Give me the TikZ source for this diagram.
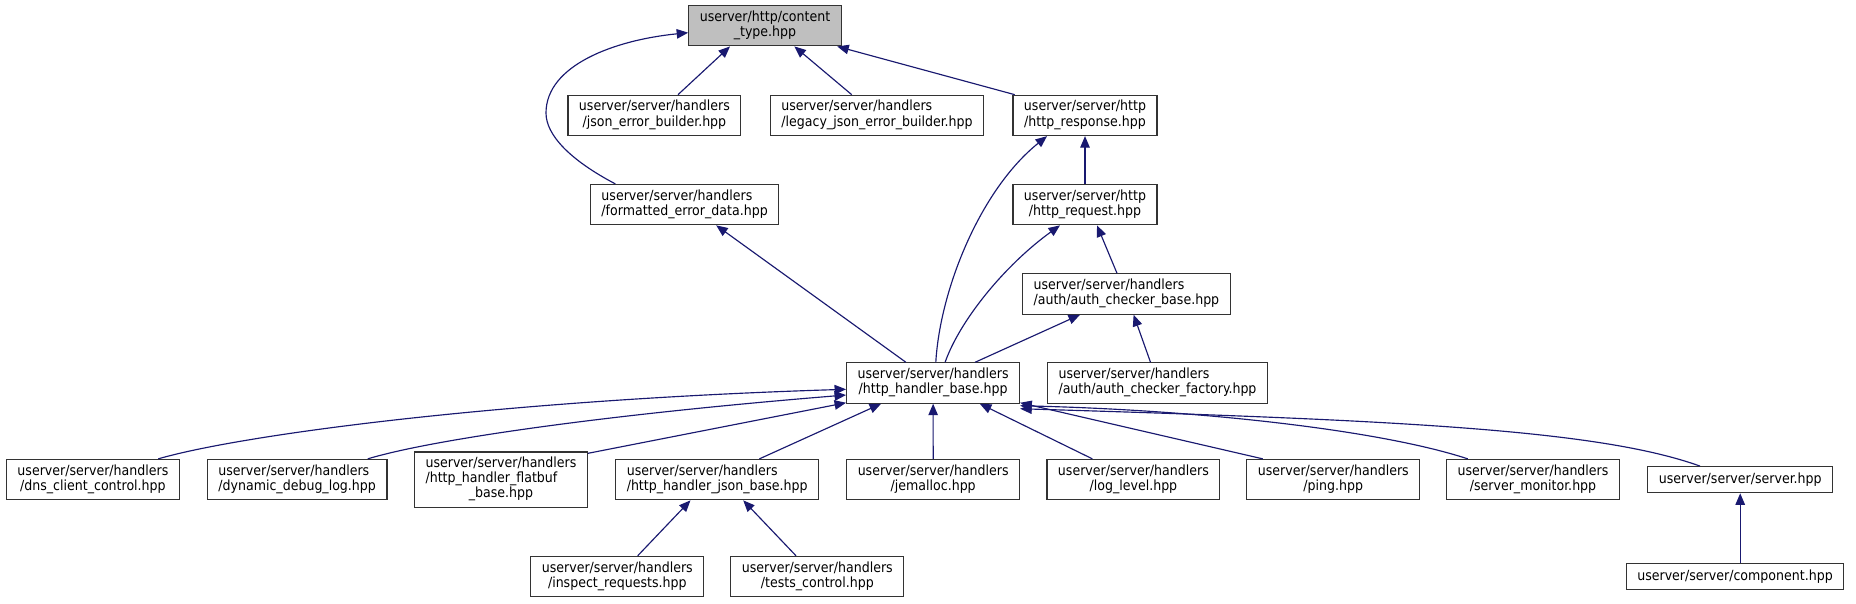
\documentclass[tikz,border=0pt]{standalone}
\usepackage{fontspec}
\setmainfont{DejaVu Sans Condensed}
\usepackage{xcolor}
\usetikzlibrary{arrows.meta,calc}

\definecolor{edgeblue}{RGB}{25,25,112}
\definecolor{rootgray}{RGB}{191,191,191}

% label with left-justified lines and a centred last line
\newcommand{\twoline}[2]{\begin{tabular}{@{}l@{}}#1\\\multicolumn{1}{@{}c@{}}{#2}\end{tabular}}
\newcommand{\threeline}[3]{\begin{tabular}{@{}l@{}}#1\\#2\\\multicolumn{1}{@{}c@{}}{#3}\end{tabular}}

\begin{document}
\begin{tikzpicture}[
  x=1pt, y=-1pt,
  font=\fontsize{14}{15}\selectfont,
  file/.style={draw=black!80, fill=white, line width=1.2pt, inner xsep=11pt, inner ysep=5pt, minimum height=26pt},
  rootfile/.style={file, fill=rootgray},
  dep/.style={draw=edgeblue, line width=1.15pt, -{Triangle[length=11.5pt,width=9.5pt]}}
]

% 1 px = 1 pt, y grows downwards
\useasboundingbox (0,0) rectangle (1856,603);
\fill[white] (0,0) rectangle (1856,603);

% Top: content_type.hpp and its direct includers
\node[rootfile] (ctype) at (765,25.7) {\twoline{userver/http/content}{\_type.hpp}};
\node[file] (jsonerr) at (654.4,115.4) {\twoline{userver/server/handlers}{/json\_error\_builder.hpp}};
\node[file] (legacyerr) at (877,115.4) {\twoline{userver/server/handlers}{/legacy\_json\_error\_builder.hpp}};
\node[file] (response) at (1085,115.4) {\twoline{userver/server/http}{/http\_response.hpp}};
\node[file] (fmterr) at (684.6,204.6) {\twoline{userver/server/handlers}{/formatted\_error\_data.hpp}};
\node[file] (request) at (1085,204.6) {\twoline{userver/server/http}{/http\_request.hpp}};
\node[file] (authbase) at (1126.4,294) {\twoline{userver/server/handlers}{/auth/auth\_checker\_base.hpp}};
\node[file] (hbase) at (933.1,383) {\twoline{userver/server/handlers}{/http\_handler\_base.hpp}};
\node[file] (authfactory) at (1157.5,383) {\twoline{userver/server/handlers}{/auth/auth\_checker\_factory.hpp}};

% Row of handlers
\node[file] (dnsctl) at (92.9,479.6) {\twoline{userver/server/handlers}{/dns\_client\_control.hpp}};
\node[file] (debuglog) at (297.2,479.6) {\twoline{userver/server/handlers}{/dynamic\_debug\_log.hpp}};
\node[file] (flatbuf) at (501,479.6) {\threeline{userver/server/handlers}{/http\_handler\_flatbuf}{\_base.hpp}};
\node[file] (jsonbase) at (717.2,479.6) {\twoline{userver/server/handlers}{/http\_handler\_json\_base.hpp}};
\node[file] (jemalloc) at (933.2,479.6) {\twoline{userver/server/handlers}{/jemalloc.hpp}};
\node[file] (loglevel) at (1133.4,479.6) {\twoline{userver/server/handlers}{/log\_level.hpp}};
\node[file] (ping) at (1333.3,479.6) {\twoline{userver/server/handlers}{/ping.hpp}};
\node[file] (monitor) at (1533,479.6) {\twoline{userver/server/handlers}{/server\_monitor.hpp}};
\node[file] (server) at (1740.2,479.7) {userver/server/server.hpp};

% Bottom row
\node[file] (inspect) at (617.3,576.5) {\twoline{userver/server/handlers}{/inspect\_requests.hpp}};
\node[file] (tests) at (817.3,576.5) {\twoline{userver/server/handlers}{/tests\_control.hpp}};
\node[file] (component) at (1735,576.3) {userver/server/component.hpp};

% Edges into content_type.hpp
\draw[dep] ([xshift=23.6pt]jsonerr.north) -- ([xshift=-35pt]ctype.south);
\draw[dep] ([xshift=-25.3pt]legacyerr.north) -- ([xshift=29.4pt]ctype.south);
\draw[dep] ([xshift=-70.3pt]response.north) -- ([xshift=-4.6pt]ctype.south east);
\draw[dep] ([xshift=-69.3pt]fmterr.north) .. controls (570,160) and (546,135) .. (546,113)
  .. controls (546,65) and (615,40) .. ([yshift=-7pt]ctype.west);

% Edges into the http headers
\draw[dep] (request) -- (response);
\draw[dep] ([xshift=2.7pt]hbase.north) .. controls (940,290) and (980,190) .. ([xshift=-38pt]response.south);
\draw[dep] ([xshift=12pt]hbase.north) .. controls (960,320) and (1005,265) .. ([xshift=-25pt]request.south);
\draw[dep] ([xshift=-9.4pt]authbase.north) -- ([xshift=12pt]request.south);
\draw[dep] ([xshift=-27.2pt]hbase.north) -- ([xshift=31.6pt]fmterr.south);
\draw[dep] ([xshift=42pt]hbase.north) -- ([xshift=-46.4pt]authbase.south);
\draw[dep] ([xshift=-7pt]authfactory.north) -- ([xshift=7.2pt]authbase.south);

% Edges into http_handler_base.hpp
\draw[dep] ([xshift=65.3pt]dnsctl.north) .. controls (240,435) and (500,400) .. ([yshift=-6.3pt]hbase.west);
\draw[dep] ([xshift=70.5pt]debuglog.north) .. controls (430,440) and (600,415) .. ([yshift=-12pt]hbase.west);
\draw[dep] ([yshift=-2pt]flatbuf.north east) -- ([yshift=1pt]hbase.south west);
\draw[dep] ([xshift=42.2pt]jsonbase.north) -- ([xshift=-52pt]hbase.south);
\draw[dep] (jemalloc) -- (hbase);
\draw[dep] ([xshift=-41pt]loglevel.north) -- ([xshift=46.7pt]hbase.south);
\draw[dep] ([xshift=-70.5pt]ping.north) -- ([yshift=1pt]hbase.south east);
\draw[dep] ([xshift=-65.2pt]monitor.north) .. controls (1380,430) and (1200,410) .. ([yshift=-2pt]hbase.south east);
\draw[dep] ([xshift=-40.2pt]server.north) .. controls (1600,430) and (1400,420) .. ([yshift=-5pt]hbase.south east);

% Bottom edges
\draw[dep] ([xshift=20.4pt]inspect.north) -- ([xshift=-26.7pt]jsonbase.south);
\draw[dep] ([xshift=-21.3pt]tests.north) -- ([xshift=26pt]jsonbase.south);
\draw[dep] (server.south |- component.north) -- (server.south);

\end{tikzpicture}
\end{document}
